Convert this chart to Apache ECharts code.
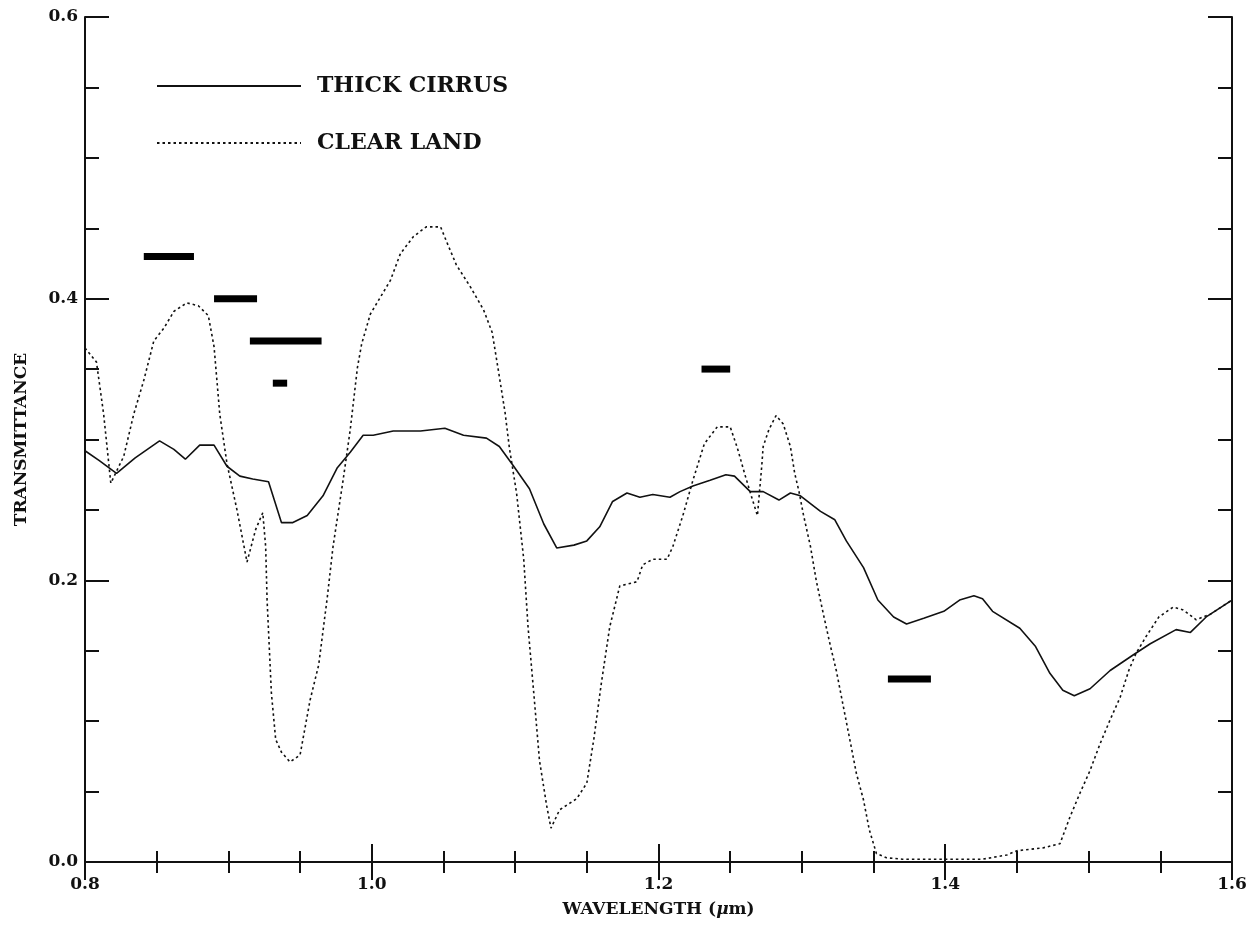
<!DOCTYPE html>
<html>
<head>
<meta charset="utf-8">
<script src="https://cdn.jsdelivr.net/npm/echarts@6/dist/echarts.min.js"></script>
<style>html,body{margin:0;padding:0;background:#fff;}#chart{width:1256px;height:928px;}</style>
</head>
<body>
<div id="chart"></div>
<script>
// ---- data ----
const xTicks = [0.8, 1.0, 1.2, 1.4, 1.6];
const yTicks = [0.0, 0.2, 0.4, 0.6];

const cirrusWavelength = [0.800,0.810,0.822,0.835,0.852,0.862,0.870,0.880,0.890,0.899,0.908,0.917,0.928,0.937,0.945,0.955,0.966,0.976,0.985,0.994,1.001,1.015,1.034,1.051,1.064,1.080,1.089,1.099,1.110,1.120,1.129,1.141,1.150,1.159,1.168,1.178,1.187,1.196,1.208,1.215,1.224,1.236,1.247,1.253,1.264,1.273,1.284,1.292,1.299,1.313,1.323,1.331,1.343,1.353,1.364,1.373,1.385,1.399,1.410,1.420,1.426,1.433,1.452,1.463,1.473,1.482,1.490,1.501,1.515,1.531,1.543,1.561,1.571,1.582,1.600];
const cirrusTransmittance = [0.292,0.285,0.276,0.287,0.299,0.293,0.286,0.296,0.296,0.281,0.274,0.272,0.270,0.241,0.241,0.246,0.260,0.280,0.291,0.303,0.303,0.306,0.306,0.308,0.303,0.301,0.295,0.281,0.265,0.240,0.223,0.225,0.228,0.238,0.256,0.262,0.259,0.261,0.259,0.263,0.267,0.271,0.275,0.274,0.263,0.263,0.257,0.262,0.260,0.249,0.243,0.228,0.209,0.186,0.174,0.169,0.173,0.178,0.186,0.189,0.187,0.178,0.166,0.153,0.134,0.122,0.118,0.123,0.136,0.147,0.155,0.165,0.163,0.174,0.186];

const landWavelength = [0.800,0.808,0.813,0.818,0.827,0.834,0.841,0.848,0.855,0.862,0.871,0.879,0.886,0.890,0.894,0.899,0.906,0.913,0.919,0.924,0.926,0.927,0.930,0.933,0.937,0.943,0.950,0.957,0.963,0.969,0.973,0.980,0.985,0.990,0.993,0.999,1.006,1.013,1.020,1.029,1.038,1.048,1.052,1.059,1.069,1.078,1.084,1.088,1.093,1.096,1.101,1.106,1.109,1.113,1.117,1.122,1.125,1.131,1.143,1.150,1.155,1.160,1.166,1.173,1.185,1.189,1.196,1.206,1.210,1.217,1.224,1.232,1.241,1.250,1.255,1.260,1.265,1.269,1.272,1.273,1.277,1.282,1.287,1.292,1.295,1.298,1.301,1.306,1.310,1.315,1.320,1.324,1.329,1.334,1.338,1.343,1.347,1.352,1.359,1.370,1.400,1.426,1.443,1.450,1.468,1.480,1.487,1.494,1.501,1.508,1.515,1.522,1.528,1.533,1.540,1.549,1.559,1.566,1.575,1.585,1.594,1.600];
const landTransmittance = [0.365,0.355,0.318,0.269,0.288,0.318,0.342,0.370,0.379,0.391,0.397,0.395,0.388,0.366,0.318,0.283,0.250,0.213,0.236,0.248,0.224,0.186,0.120,0.087,0.078,0.071,0.076,0.115,0.140,0.188,0.224,0.271,0.307,0.351,0.368,0.389,0.401,0.413,0.432,0.444,0.451,0.451,0.441,0.424,0.408,0.392,0.376,0.351,0.319,0.294,0.262,0.215,0.167,0.120,0.072,0.040,0.024,0.037,0.045,0.056,0.088,0.126,0.167,0.196,0.199,0.211,0.215,0.215,0.224,0.246,0.271,0.297,0.309,0.309,0.294,0.276,0.259,0.246,0.281,0.295,0.307,0.317,0.311,0.295,0.276,0.263,0.247,0.224,0.200,0.176,0.153,0.136,0.110,0.084,0.063,0.044,0.023,0.006,0.003,0.002,0.002,0.002,0.005,0.008,0.010,0.013,0.032,0.049,0.065,0.084,0.101,0.117,0.136,0.148,0.160,0.174,0.181,0.179,0.172,0.176,0.182,0.186];

const bandStart = [0.841, 0.890, 0.915, 0.931, 1.230, 1.360];
const bandEnd   = [0.876, 0.920, 0.965, 0.941, 1.250, 1.390];
const bandLevel = [0.430, 0.400, 0.370, 0.340, 0.350, 0.130];

const seriesNames = ['THICK CIRRUS', 'CLEAR LAND'];
const xTitle = 'WAVELENGTH';
const yTitle = 'TRANSMITTANCE';

// ---- build ----
const cirrusData = cirrusWavelength.map((x, i) => [x, cirrusTransmittance[i]]);
const landData = landWavelength.map((x, i) => [x, landTransmittance[i]]);
const bandData = bandStart.map((s, i) => [s, bandEnd[i], bandLevel[i]]);

const FONT = 'DejaVu Serif';
const tickLbl = { fontFamily: FONT, fontWeight: 'bold', fontSize: 17, color: '#111' };

function xAxisCfg(pos, showLabel) {
  return {
    type: 'value', position: pos, min: 0.8, max: 1.6, interval: 0.2,
    axisLine: { show: true, lineStyle: { color: '#111', width: 2 } },
    axisTick: { show: true, inside: true, length: 18, lineStyle: { color: '#111', width: 2 } },
    minorTick: { show: true, splitNumber: 4, length: 11, lineStyle: { color: '#111', width: 2 } },
    splitLine: { show: false },
    axisLabel: { show: showLabel, margin: 14, ...tickLbl,
      formatter: v => xTicks.some(t => Math.abs(t - v) < 1e-6) ? v.toFixed(1) : '' }
  };
}
function yAxisCfg(pos, showLabel) {
  return {
    type: 'value', position: pos, min: 0, max: 0.6, interval: 0.2,
    axisLine: { show: true, lineStyle: { color: '#111', width: 2 } },
    axisTick: { show: true, inside: true, length: 24, lineStyle: { color: '#111', width: 2 } },
    minorTick: { show: true, splitNumber: 4, length: 14, lineStyle: { color: '#111', width: 2 } },
    splitLine: { show: false },
    axisLabel: { show: showLabel, margin: 7, ...tickLbl,
      formatter: v => yTicks.some(t => Math.abs(t - v) < 1e-6) ? v.toFixed(1) : '' }
  };
}

const xBottom = xAxisCfg('bottom', true);
xBottom.name = '{n|' + xTitle + ' (}{i|μ}{n|m)}';
xBottom.nameLocation = 'middle';
xBottom.nameGap = 39;
xBottom.nameTextStyle = { rich: {
  n: { fontFamily: FONT, fontWeight: 'bold', fontSize: 17, color: '#111' },
  i: { fontFamily: FONT, fontStyle: 'italic', fontWeight: 'bold', fontSize: 17, color: '#111' } } };

const yLeft = yAxisCfg('left', true);
yLeft.name = yTitle;
yLeft.nameLocation = 'middle';
yLeft.nameGap = 55;
yLeft.nameRotate = 90;
yLeft.nameTextStyle = { fontFamily: FONT, fontWeight: 'bold', fontSize: 17, color: '#111' };

const chart = echarts.init(document.getElementById('chart'), null, { renderer: 'canvas' });
chart.setOption({
  backgroundColor: '#fff',
  animation: false,
  grid: { left: 85, right: 24, top: 17, bottom: 66, outerBoundsMode: 'none' },
  legend: {
    data: seriesNames, orient: 'vertical', left: 156, top: 73, padding: 0,
    itemWidth: 144, itemHeight: 14, itemGap: 31,
    itemStyle: { opacity: 0 },
    textStyle: { fontFamily: FONT, fontWeight: 'bold', fontSize: 22, color: '#111', lineHeight: 26, padding: [0, 0, 0, 11] }
  },
  xAxis: [xBottom, xAxisCfg('top', false)],
  yAxis: [yLeft, yAxisCfg('right', false)],
  series: [
    { name: seriesNames[0], type: 'line', data: cirrusData, symbol: 'none', smooth: false,
      lineStyle: { color: '#111', width: 1.6, type: 'solid' }, itemStyle: { color: '#111' } },
    { name: seriesNames[1], type: 'line', data: landData, symbol: 'none', smooth: false,
      lineStyle: { color: '#111', width: 1.6, type: [2.5, 3] }, itemStyle: { color: '#111' } },
    { name: 'bands', type: 'custom', data: bandData, encode: { x: [0, 1], y: 2 },
      renderItem: function (params, api) {
        const p1 = api.coord([api.value(0), api.value(2)]);
        const p2 = api.coord([api.value(1), api.value(2)]);
        return { type: 'rect', shape: { x: p1[0], y: p1[1] - 3.5, width: p2[0] - p1[0], height: 7 },
          style: { fill: '#000' } };
      } }
  ]
});
</script>
</body>
</html>
